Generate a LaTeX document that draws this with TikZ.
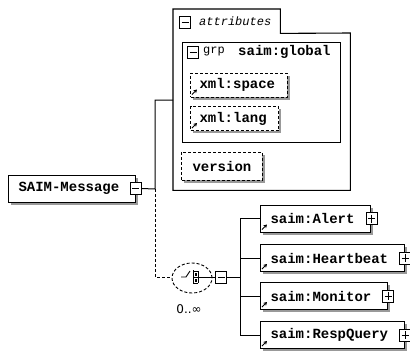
\documentclass[tikz,border=0pt]{standalone}
\usepackage{fontspec}
\setmainfont{Liberation Serif}
\newfontfamily\monofont{Liberation Mono}
\newfontfamily\symfont{DejaVu Sans}
\usetikzlibrary{shadows,shapes.geometric,arrows.meta}
\tikzset{
  shd/.style={drop shadow={shadow xshift=2.5pt, shadow yshift=-2.5pt, fill=black!40, opacity=1}},
  boxbase/.style={draw, line width=1pt, fill=white, shd, inner sep=0pt, anchor=west,
    font=\monofont\bfseries\fontsize{14}{14}\selectfont},
  elem/.style={boxbase, minimum height=27pt},
  attrib/.style={boxbase, dash pattern=on 3pt off 2pt, minimum height=24pt},
  tog/.style={draw, line width=0.8pt, fill=white, minimum width=11pt, minimum height=12pt, inner sep=0pt},
  minusbox/.style={tog, path picture={
      \draw[line width=0.8pt] ([xshift=2pt]path picture bounding box.west) -- ([xshift=-2pt]path picture bounding box.east);}},
  plusbox/.style={tog, path picture={
      \draw[line width=0.8pt] ([xshift=2pt]path picture bounding box.west) -- ([xshift=-2pt]path picture bounding box.east);
      \draw[line width=0.8pt] ([yshift=-2pt]path picture bounding box.north) -- ([yshift=2pt]path picture bounding box.south);}},
  refarrow/.style={-{Stealth[length=3.5pt,width=4pt]}, line width=1pt},
  conn/.style={line width=1pt},
  dconn/.style={line width=1pt, dash pattern=on 3pt off 2pt},
  ghost/.style={inner sep=0pt, anchor=north west}
}
\begin{document}
\begin{tikzpicture}[x=1pt, y=-1pt]
\useasboundingbox (0,0) rectangle (410,354);

% attributes container
\node[ghost, minimum width=107pt, minimum height=24pt] (tab) at (173,9) {};
\node[ghost, minimum width=177pt, minimum height=157pt] (attrbody) at (173,33) {};
\draw[line width=1.1pt] (attrbody.south west) -- (tab.north west) -- (tab.north east)
  -- (tab.south east) -- (attrbody.north east) -- (attrbody.south east) -- cycle;
\node[minusbox] (tabminus) at (185,22) {};
\node[anchor=west, inner sep=0pt, font=\monofont\itshape\fontsize{12}{12}\selectfont] (tabtext) at (199,21) {attributes};

% group box
\node[ghost, draw, line width=1pt, minimum width=158pt, minimum height=100pt] (grp) at (182,42) {};
\node[minusbox] (grpminus) at (193,52) {};
\node[anchor=west, inner sep=0pt, font=\monofont\fontsize{12}{12}\selectfont] (grptext) at (203,52) {grp};
\node[anchor=west, inner sep=0pt, font=\monofont\bfseries\fontsize{14}{14}\selectfont] (grpname) at (238,52) {saim:global};

\node[attrib] (xspace) at (190,85) {\hspace*{9pt}xml:space\hspace*{12pt}};
\node[attrib] (xlang) at (190,118.5) {\hspace*{9pt}xml:lang\hspace*{12pt}};
\draw[refarrow] ([shift={(2pt,3pt)}]xspace.south west) -- ++(5pt,5pt);
\draw[refarrow] ([shift={(2pt,3pt)}]xlang.south west) -- ++(5pt,5pt);

\node[attrib, minimum height=28pt] (version) at (181,166) {\hspace*{11pt}version\hspace*{11pt}};

% root element
\node[elem] (msg) at (8,188.5) {\hspace*{10pt}SAIM-Message\hspace*{16pt}};
\node[minusbox] (msgminus) at (msg.east) {};

\coordinate (jA) at (155,189);
\coordinate (jTop) at (155,100);
\coordinate (jBot) at (155,277);
\draw[conn] (msgminus.east) -- (jA) -- (jTop) -- (attrbody.west |- jTop);

% sequence compositor
\node[ellipse, draw, dash pattern=on 3pt off 2pt, line width=0.9pt, minimum width=40pt, minimum height=30pt, inner sep=0pt] (seq) at (192,278) {};
\draw[dconn] (jA) -- (jBot) -- (seq.west |- jBot);
\draw[line width=0.9pt] (181,277) -- (186,277) -- (190,271);
\draw[line width=0.9pt] (193,270) -- (193,284);
\draw[line width=0.9pt] (193,271) -- (198,271) (193,277) -- (203,277) (193,283) -- (198,283) (198,271) -- (198,283);
\fill (194.5,272.5) rectangle (196.5,275.5);
\fill (194.5,278.5) rectangle (196.5,281.5);
\node[minusbox] (seqminus) at (221,277) {};
\draw[conn] (203,277) -- (seqminus.west);
\node[font=\symfont\fontsize{12}{12}\selectfont, inner sep=0pt] (occ) at (189,309) {0..∞};

% children
\node[elem] (alert) at (260,218.5) {\hspace*{10pt}saim:Alert\hspace*{16pt}};
\node[elem] (heart) at (260,258) {\hspace*{10pt}saim:Heartbeat\hspace*{16pt}};
\node[elem] (monitor) at (260,296) {\hspace*{10pt}saim:Monitor\hspace*{16pt}};
\node[elem] (resp) at (260,335) {\hspace*{10pt}saim:RespQuery\hspace*{16pt}};
\foreach \n in {alert,heart,monitor,resp}{
  \node[plusbox] (\n plus) at ([xshift=0.5pt]\n.east) {};
  \draw[refarrow] ([shift={(2pt,3pt)}]\n.south west) -- ++(5pt,5pt);
}

\coordinate (bus) at (240,277);
\draw[conn] (seqminus.east) -- (bus);
\draw[conn] (alert.west) -| (bus |- alert.west) |- (resp.west);
\draw[conn] (bus |- heart.west) -- (heart.west);
\draw[conn] (bus |- monitor.west) -- (monitor.west);
\end{tikzpicture}
\end{document}
